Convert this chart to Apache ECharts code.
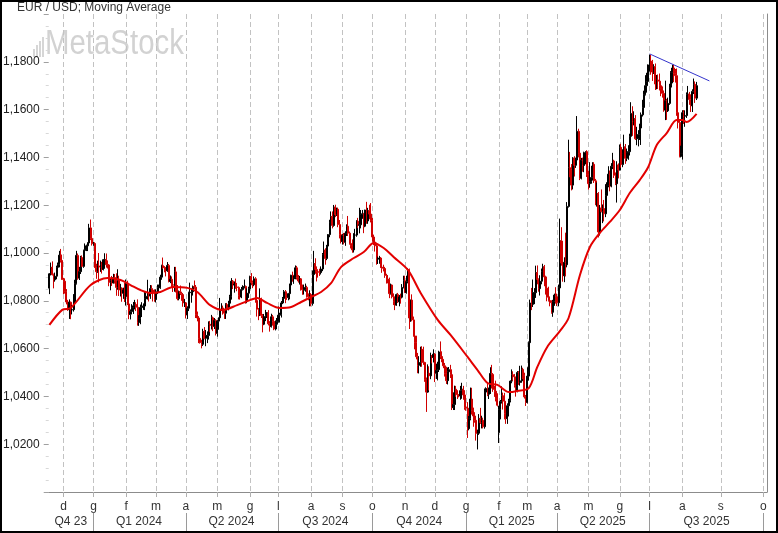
<!DOCTYPE html>
<html><head><meta charset="utf-8">
<script src="https://cdn.jsdelivr.net/npm/echarts@6/dist/echarts.min.js"></script>
<style>html,body{margin:0;padding:0;background:#fff}#chart{width:778px;height:533px}</style>
</head><body><div id="chart"></div>
<script>
// ---- axis definitions ----
const startDate = '2023-11-17';     // first daily bar
const lastBarDate = '2025-08-15';   // last daily bar
const axisEndDate = '2025-10-03';   // axis extends into the future (calendar days)
const monthLetters = ['g','f','m','a','m','g','l','a','s','o','n','d'];
const quarterLabels = ['Q4 23','Q1 2024','Q2 2024','Q3 2024','Q4 2024','Q1 2025','Q2 2025','Q3 2025'];
const yTicks = [1.02,1.04,1.06,1.08,1.10,1.12,1.14,1.16,1.18];

// ---- EUR/USD daily bars ----
const opens = [1.0853,1.0913,1.0940,1.0909,1.0888,1.0903,1.0940,1.0953,1.0991,1.0969,
1.0889,1.0882,1.0838,1.0795,1.0763,1.0794,1.0762,1.0763,1.0795,1.0873,1.0990,1.0895,1.0922,1.0981,1.0944,1.1011,1.1013,1.1030,1.1042,1.1105,1.1061,
1.1039,1.1040,1.0940,1.0922,1.0946,1.0941,1.0950,1.0931,1.0972,1.0973,1.0951,1.0950,1.0877,1.0884,1.0875,1.0897,1.0885,1.0856,1.0885,1.0845,1.0853,1.0832,1.0845,
1.0818,1.0874,1.0787,1.0743,1.0755,1.0773,1.0779,1.0785,1.0773,1.0709,1.0727,1.0772,1.0777,1.0778,1.0808,1.0819,1.0823,1.0820,1.0851,1.0845,1.0835,
1.0805,1.0838,1.0855,1.0855,1.0899,1.0947,1.0938,1.0929,1.0926,1.0948,1.0881,1.0890,1.0867,1.0865,1.0921,1.0859,1.0809,1.0839,1.0831,1.0826,1.0791,
1.0791,1.0741,1.0769,1.0834,1.0836,1.0838,1.0860,1.0857,1.0743,1.0728,1.0643,1.0625,1.0618,1.0672,1.0643,1.0655,1.0655,1.0702,1.0697,1.0729,1.0693,1.0718,
1.0664,1.0715,1.0729,1.0761,1.0770,1.0753,1.0748,1.0784,1.0771,1.0790,1.0819,1.0882,1.0866,1.0870,1.0858,1.0856,1.0822,1.0816,1.0847,1.0857,1.0860,1.0801,1.0832,
1.0850,1.0902,1.0876,1.0867,1.0892,1.0801,1.0765,1.0741,1.0808,1.0739,1.0702,1.0734,1.0737,1.0750,1.0704,1.0692,1.0733,1.0714,1.0682,1.0702,
1.0713,1.0740,1.0742,1.0791,1.0810,1.0838,1.0824,1.0814,1.0830,1.0866,1.0907,1.0892,1.0896,1.0938,1.0897,1.0883,1.0892,1.0846,1.0844,1.0848,1.0856,1.0820,1.0818,
1.0826,1.0789,1.0910,1.0956,1.0931,1.0922,1.0919,1.0918,1.0933,1.0993,1.1012,1.0977,1.1029,1.1077,1.1129,1.1153,1.1115,1.1192,1.1160,1.1183,1.1119,1.1077,
1.1048,1.1073,1.1045,1.1083,1.1112,1.1083,1.1040,1.1033,1.1013,1.1075,1.1075,1.1133,1.1116,1.1118,1.1162,1.1164,1.1112,1.1180,1.1134,1.1177,1.1163,
1.1135,1.1067,1.1046,1.1030,1.0975,1.0975,1.0979,1.0941,1.0936,1.0935,1.0906,1.0891,1.0889,1.0830,1.0866,1.0817,1.0797,1.0782,1.0826,1.0796,1.0816,1.0815,1.0856,
1.0884,1.0834,1.0880,1.0930,1.0728,1.0803,1.0720,1.0653,1.0625,1.0566,1.0530,1.0542,1.0597,1.0595,1.0542,1.0472,1.0418,1.0497,1.0486,1.0568,1.0563,
1.0577,1.0497,1.0509,1.0512,1.0586,1.0567,1.0555,1.0528,1.0497,1.0466,1.0503,1.0512,1.0491,1.0353,1.0366,1.0430,1.0407,1.0405,1.0402,1.0424,1.0430,1.0406,
1.0354,1.0351,1.0265,1.0308,1.0389,1.0342,1.0318,1.0300,1.0245,1.0246,1.0308,1.0290,1.0300,1.0273,1.0418,1.0433,1.0409,1.0414,1.0496,1.0492,1.0429,1.0422,1.0393,
1.0249,1.0345,1.0379,1.0403,1.0380,1.0329,1.0307,1.0361,1.0384,1.0464,1.0491,1.0482,1.0445,1.0422,1.0500,1.0458,1.0465,1.0513,1.0486,1.0398,
1.0375,1.0485,1.0625,1.0791,1.0785,1.0834,1.0834,1.0918,1.0889,1.0851,1.0882,1.0922,1.0942,1.0900,1.0853,1.0815,1.0801,1.0792,1.0752,1.0798,1.0824,
1.0817,1.0792,1.0854,1.1051,1.0958,1.0905,1.0961,1.0951,1.1195,1.1357,1.1349,1.1284,1.1397,1.1367,1.1389,1.1509,1.1418,1.1313,1.1388,1.1366,1.1420,1.1424,
1.1327,1.1290,1.1300,1.1316,1.1371,1.1302,1.1230,1.1249,1.1088,1.1188,1.1173,1.1186,1.1164,1.1241,1.1284,1.1330,1.1280,1.1363,1.1385,1.1325,1.1290,1.1368,
1.1347,1.1442,1.1370,1.1418,1.1444,1.1396,1.1422,1.1424,1.1488,1.1584,1.1550,1.1562,1.1478,1.1480,1.1496,1.1523,1.1578,1.1609,1.1664,1.1700,1.1718,
1.1787,1.1803,1.1800,1.1757,1.1779,1.1707,1.1724,1.1719,1.1700,1.1690,1.1668,1.1598,1.1637,1.1595,1.1626,1.1694,1.1754,1.1774,1.1752,1.1742,1.1587,1.1546,1.1404,
1.1415,1.1587,1.1572,1.1575,1.1662,1.1665,1.1642,1.1616,1.1676,1.1706,1.1648];

const highs = [1.0916,1.0960,1.0965,1.0914,1.0918,1.0947,1.0960,1.1009,1.1017,1.0993,
1.0896,1.0894,1.0849,1.0804,1.0806,1.0797,1.0781,1.0828,1.0888,1.1009,1.0998,1.0942,1.0988,1.0990,1.1014,1.1040,1.1035,1.1045,1.1122,1.1140,1.1079,
1.1046,1.1045,1.0955,1.0968,1.1000,1.0968,1.0963,1.0975,1.0999,1.0998,1.0969,1.0953,1.0893,1.0904,1.0913,1.0912,1.0915,1.0932,1.0905,1.0871,1.0856,1.0855,1.0875,
1.0889,1.0884,1.0792,1.0764,1.0786,1.0795,1.0804,1.0794,1.0806,1.0740,1.0784,1.0794,1.0789,1.0839,1.0838,1.0888,1.0836,1.0866,1.0865,1.0850,1.0848,
1.0848,1.0868,1.0868,1.0909,1.0951,1.0981,1.0945,1.0941,1.0962,1.0954,1.0906,1.0902,1.0875,1.0942,1.0942,1.0866,1.0843,1.0864,1.0838,1.0832,1.0808,
1.0795,1.0777,1.0838,1.0876,1.0851,1.0864,1.0885,1.0866,1.0755,1.0736,1.0670,1.0637,1.0683,1.0690,1.0678,1.0672,1.0714,1.0716,1.0741,1.0734,1.0728,1.0723,
1.0719,1.0730,1.0812,1.0790,1.0780,1.0761,1.0790,1.0791,1.0800,1.0825,1.0895,1.0887,1.0881,1.0893,1.0875,1.0860,1.0853,1.0858,1.0865,1.0889,1.0864,1.0852,1.0859,
1.0905,1.0916,1.0885,1.0902,1.0899,1.0805,1.0770,1.0852,1.0813,1.0745,1.0745,1.0762,1.0753,1.0761,1.0715,1.0746,1.0741,1.0718,1.0718,1.0728,
1.0776,1.0750,1.0799,1.0816,1.0845,1.0845,1.0831,1.0833,1.0872,1.0909,1.0922,1.0905,1.0948,1.0946,1.0908,1.0904,1.0895,1.0868,1.0868,1.0872,1.0863,1.0831,1.0844,
1.0832,1.0927,1.1009,1.0978,1.0944,1.0929,1.0934,1.0944,1.1000,1.1048,1.1020,1.1034,1.1079,1.1139,1.1174,1.1174,1.1201,1.1202,1.1190,1.1190,1.1138,1.1090,
1.1079,1.1084,1.1091,1.1120,1.1155,1.1090,1.1055,1.1057,1.1083,1.1101,1.1137,1.1147,1.1189,1.1180,1.1180,1.1168,1.1181,1.1214,1.1189,1.1202,1.1209,
1.1147,1.1077,1.1051,1.1043,1.0985,1.0988,1.0983,1.0960,1.0951,1.0942,1.0913,1.0907,1.0897,1.0872,1.0868,1.0831,1.0807,1.0830,1.0833,1.0824,1.0830,1.0870,1.0905,
1.0905,1.0905,1.0937,1.0935,1.0805,1.0827,1.0734,1.0661,1.0654,1.0582,1.0568,1.0608,1.0610,1.0608,1.0545,1.0479,1.0534,1.0526,1.0583,1.0573,1.0597,
1.0581,1.0537,1.0545,1.0591,1.0630,1.0588,1.0556,1.0540,1.0524,1.0521,1.0523,1.0532,1.0508,1.0417,1.0445,1.0444,1.0426,1.0409,1.0444,1.0457,1.0444,1.0426,
1.0364,1.0376,1.0318,1.0437,1.0436,1.0353,1.0334,1.0313,1.0261,1.0326,1.0352,1.0319,1.0311,1.0433,1.0438,1.0455,1.0437,1.0522,1.0532,1.0497,1.0444,1.0466,1.0413,
1.0361,1.0385,1.0442,1.0416,1.0415,1.0339,1.0371,1.0390,1.0467,1.0513,1.0505,1.0494,1.0459,1.0506,1.0506,1.0528,1.0529,1.0520,1.0499,1.0406,
1.0522,1.0630,1.0805,1.0854,1.0889,1.0853,1.0947,1.0948,1.0894,1.0907,1.0935,1.0955,1.0950,1.0905,1.0862,1.0859,1.0818,1.0802,1.0804,1.0830,1.0857,
1.0830,1.0868,1.1144,1.1108,1.1051,1.0982,1.1085,1.1213,1.1474,1.1423,1.1372,1.1401,1.1405,1.1399,1.1573,1.1520,1.1460,1.1398,1.1399,1.1424,1.1426,1.1430,
1.1344,1.1380,1.1365,1.1380,1.1380,1.1310,1.1295,1.1255,1.1201,1.1266,1.1203,1.1222,1.1288,1.1296,1.1363,1.1345,1.1376,1.1419,1.1390,1.1337,1.1384,1.1375,
1.1454,1.1457,1.1434,1.1495,1.1456,1.1437,1.1451,1.1499,1.1631,1.1614,1.1593,1.1577,1.1528,1.1514,1.1541,1.1588,1.1641,1.1679,1.1744,1.1754,1.1789,
1.1830,1.1829,1.1808,1.1790,1.1793,1.1745,1.1747,1.1751,1.1707,1.1697,1.1680,1.1721,1.1645,1.1650,1.1708,1.1761,1.1788,1.1788,1.1770,1.1772,1.1598,1.1555,1.1449,
1.1597,1.1598,1.1597,1.1672,1.1699,1.1674,1.1664,1.1685,1.1730,1.1718,1.1716];

const lows = [1.0828,1.0906,1.0906,1.0852,1.0880,1.0890,1.0922,1.0940,1.0960,1.0888,
1.0828,1.0830,1.0785,1.0758,1.0724,1.0723,1.0743,1.0755,1.0773,1.0868,1.0888,1.0887,1.0912,1.0941,1.0938,1.0996,1.1008,1.1008,1.1036,1.1054,1.1031,
1.1030,1.0937,1.0892,1.0917,1.0877,1.0921,1.0914,1.0927,1.0934,1.0939,1.0935,1.0861,1.0844,1.0862,1.0872,1.0872,1.0821,1.0846,1.0820,1.0818,1.0796,1.0808,1.0795,
1.0780,1.0782,1.0723,1.0722,1.0743,1.0745,1.0764,1.0757,1.0696,1.0695,1.0702,1.0732,1.0762,1.0761,1.0789,1.0805,1.0797,1.0808,1.0828,1.0797,1.0796,
1.0793,1.0828,1.0834,1.0850,1.0888,1.0934,1.0919,1.0902,1.0921,1.0877,1.0874,1.0858,1.0837,1.0838,1.0835,1.0802,1.0802,1.0824,1.0800,1.0775,1.0774,
1.0726,1.0724,1.0757,1.0823,1.0792,1.0822,1.0850,1.0728,1.0714,1.0623,1.0621,1.0601,1.0611,1.0639,1.0610,1.0623,1.0638,1.0669,1.0680,1.0673,1.0682,1.0655,
1.0650,1.0679,1.0724,1.0757,1.0742,1.0724,1.0724,1.0762,1.0760,1.0766,1.0805,1.0849,1.0834,1.0850,1.0840,1.0806,1.0805,1.0811,1.0843,1.0852,1.0788,1.0790,1.0812,
1.0844,1.0865,1.0853,1.0861,1.0792,1.0734,1.0719,1.0736,1.0728,1.0668,1.0698,1.0715,1.0728,1.0697,1.0671,1.0688,1.0696,1.0677,1.0676,1.0686,
1.0709,1.0709,1.0730,1.0786,1.0794,1.0790,1.0804,1.0802,1.0806,1.0858,1.0880,1.0871,1.0890,1.0889,1.0876,1.0868,1.0843,1.0825,1.0826,1.0838,1.0813,1.0802,1.0777,
1.0777,1.0780,1.0882,1.0913,1.0881,1.0897,1.0904,1.0910,1.0924,1.0985,1.0951,1.0970,1.1018,1.1066,1.1101,1.1103,1.1110,1.1150,1.1155,1.1108,1.1061,1.1040,
1.1035,1.1036,1.1030,1.1071,1.1071,1.1035,1.1019,1.1001,1.1002,1.1058,1.1068,1.1104,1.1082,1.1103,1.1143,1.1083,1.1108,1.1122,1.1122,1.1141,1.1128,
1.1047,1.1033,1.1006,1.0951,1.0954,1.0955,1.0937,1.0917,1.0923,1.0896,1.0872,1.0873,1.0811,1.0826,1.0810,1.0782,1.0761,1.0779,1.0791,1.0777,1.0788,1.0810,1.0852,
1.0833,1.0830,1.0873,1.0682,1.0712,1.0714,1.0650,1.0597,1.0555,1.0497,1.0496,1.0524,1.0524,1.0532,1.0461,1.0335,1.0415,1.0425,1.0472,1.0538,1.0542,
1.0460,1.0473,1.0467,1.0502,1.0556,1.0543,1.0518,1.0483,1.0452,1.0450,1.0476,1.0477,1.0343,1.0343,1.0343,1.0398,1.0389,1.0396,1.0386,1.0390,1.0386,1.0344,
1.0340,1.0226,1.0258,1.0300,1.0324,1.0273,1.0290,1.0215,1.0178,1.0239,1.0285,1.0266,1.0266,1.0265,1.0352,1.0401,1.0389,1.0410,1.0433,1.0419,1.0398,1.0379,1.0358,
1.0205,1.0304,1.0370,1.0345,1.0304,1.0285,1.0285,1.0316,1.0375,1.0455,1.0465,1.0437,1.0399,1.0417,1.0448,1.0445,1.0457,1.0472,1.0391,1.0360,
1.0370,1.0466,1.0620,1.0761,1.0774,1.0786,1.0812,1.0869,1.0838,1.0822,1.0869,1.0901,1.0861,1.0826,1.0798,1.0797,1.0777,1.0746,1.0733,1.0779,1.0788,
1.0778,1.0777,1.0845,1.0947,1.0880,1.0878,1.0902,1.0940,1.1190,1.1317,1.1262,1.1266,1.1320,1.1356,1.1385,1.1400,1.1305,1.1308,1.1340,1.1338,1.1371,1.1318,
1.1265,1.1273,1.1290,1.1303,1.1293,1.1200,1.1194,1.1065,1.1073,1.1170,1.1125,1.1132,1.1150,1.1212,1.1275,1.1258,1.1275,1.1351,1.1314,1.1284,1.1211,1.1312,
1.1345,1.1357,1.1359,1.1400,1.1373,1.1384,1.1390,1.1408,1.1468,1.1490,1.1534,1.1473,1.1451,1.1446,1.1473,1.1452,1.1571,1.1593,1.1659,1.1671,1.1709,
1.1759,1.1746,1.1720,1.1749,1.1682,1.1685,1.1686,1.1680,1.1656,1.1650,1.1591,1.1556,1.1557,1.1590,1.1620,1.1679,1.1710,1.1715,1.1713,1.1574,1.1521,1.1400,1.1400,
1.1391,1.1540,1.1528,1.1565,1.1630,1.1620,1.1590,1.1590,1.1665,1.1628,1.1640];

const closes = [1.0913,1.0940,1.0909,1.0888,1.0903,1.0940,1.0953,1.0991,1.0969,1.0889,
1.0882,1.0838,1.0795,1.0763,1.0794,1.0762,1.0763,1.0795,1.0873,1.0990,1.0895,1.0922,1.0981,1.0944,1.1011,1.1013,1.1030,1.1042,1.1105,1.1061,1.1039,
1.1040,1.0940,1.0922,1.0946,1.0941,1.0950,1.0931,1.0972,1.0973,1.0951,1.0950,1.0877,1.0884,1.0875,1.0897,1.0885,1.0856,1.0885,1.0845,1.0853,1.0832,1.0845,1.0818,
1.0874,1.0787,1.0743,1.0755,1.0773,1.0779,1.0785,1.0773,1.0709,1.0727,1.0772,1.0777,1.0778,1.0808,1.0819,1.0823,1.0820,1.0851,1.0845,1.0835,1.0805,
1.0838,1.0855,1.0855,1.0899,1.0947,1.0938,1.0929,1.0926,1.0948,1.0881,1.0890,1.0867,1.0865,1.0921,1.0859,1.0809,1.0839,1.0831,1.0826,1.0791,1.0791,
1.0741,1.0769,1.0834,1.0836,1.0838,1.0860,1.0857,1.0743,1.0728,1.0643,1.0625,1.0618,1.0672,1.0643,1.0655,1.0655,1.0702,1.0697,1.0729,1.0693,1.0718,1.0664,
1.0715,1.0729,1.0761,1.0770,1.0753,1.0748,1.0784,1.0771,1.0790,1.0819,1.0882,1.0866,1.0870,1.0858,1.0856,1.0822,1.0816,1.0847,1.0857,1.0860,1.0801,1.0832,1.0850,
1.0902,1.0876,1.0867,1.0892,1.0801,1.0765,1.0741,1.0808,1.0739,1.0702,1.0734,1.0737,1.0750,1.0704,1.0692,1.0733,1.0714,1.0682,1.0702,1.0713,
1.0740,1.0742,1.0791,1.0810,1.0838,1.0824,1.0814,1.0830,1.0866,1.0907,1.0892,1.0896,1.0938,1.0897,1.0883,1.0892,1.0846,1.0844,1.0848,1.0856,1.0820,1.0818,1.0826,
1.0789,1.0910,1.0956,1.0931,1.0922,1.0919,1.0918,1.0933,1.0993,1.1012,1.0977,1.1029,1.1077,1.1129,1.1153,1.1115,1.1192,1.1160,1.1183,1.1119,1.1077,1.1048,
1.1073,1.1045,1.1083,1.1112,1.1083,1.1040,1.1033,1.1013,1.1075,1.1075,1.1133,1.1116,1.1118,1.1162,1.1164,1.1112,1.1180,1.1134,1.1177,1.1163,1.1135,
1.1067,1.1046,1.1030,1.0975,1.0975,1.0979,1.0941,1.0936,1.0935,1.0906,1.0891,1.0889,1.0830,1.0866,1.0817,1.0797,1.0782,1.0826,1.0796,1.0816,1.0815,1.0856,1.0884,
1.0834,1.0880,1.0930,1.0728,1.0803,1.0720,1.0653,1.0625,1.0566,1.0530,1.0542,1.0597,1.0595,1.0542,1.0472,1.0418,1.0497,1.0486,1.0568,1.0563,1.0577,
1.0497,1.0509,1.0512,1.0586,1.0567,1.0555,1.0528,1.0497,1.0466,1.0503,1.0512,1.0491,1.0353,1.0366,1.0430,1.0407,1.0405,1.0402,1.0424,1.0430,1.0406,1.0354,
1.0351,1.0265,1.0308,1.0389,1.0342,1.0318,1.0300,1.0245,1.0246,1.0308,1.0290,1.0300,1.0273,1.0418,1.0433,1.0409,1.0414,1.0496,1.0492,1.0429,1.0422,1.0393,1.0363,
1.0345,1.0379,1.0403,1.0380,1.0329,1.0307,1.0361,1.0384,1.0464,1.0491,1.0482,1.0445,1.0422,1.0500,1.0458,1.0465,1.0513,1.0486,1.0398,1.0375,
1.0485,1.0625,1.0791,1.0785,1.0834,1.0834,1.0918,1.0889,1.0851,1.0882,1.0922,1.0942,1.0900,1.0853,1.0815,1.0801,1.0792,1.0752,1.0798,1.0824,1.0817,
1.0792,1.0854,1.1051,1.0958,1.0905,1.0961,1.0951,1.1195,1.1357,1.1349,1.1284,1.1397,1.1367,1.1389,1.1509,1.1418,1.1313,1.1388,1.1366,1.1420,1.1424,1.1327,
1.1290,1.1300,1.1316,1.1371,1.1302,1.1230,1.1249,1.1088,1.1188,1.1173,1.1186,1.1164,1.1241,1.1284,1.1330,1.1280,1.1363,1.1385,1.1325,1.1290,1.1368,1.1347,
1.1442,1.1370,1.1418,1.1444,1.1396,1.1422,1.1424,1.1488,1.1584,1.1550,1.1562,1.1478,1.1480,1.1496,1.1523,1.1578,1.1609,1.1664,1.1700,1.1718,1.1787,
1.1803,1.1800,1.1757,1.1779,1.1707,1.1724,1.1719,1.1700,1.1690,1.1668,1.1598,1.1637,1.1595,1.1626,1.1694,1.1754,1.1774,1.1752,1.1742,1.1587,1.1546,1.1404,1.1415,
1.1587,1.1572,1.1575,1.1662,1.1665,1.1642,1.1616,1.1676,1.1706,1.1648,1.1700];

// ---- moving average: [bar index, value] ----
const maPoints = [[0,1.0699],[9,1.0762],[15,1.0770],[29,1.0866],[41,1.0895],[50,1.0887],[57,1.0866],[64,1.0845],
[71,1.0833],[78,1.0837],[87,1.0858],[97,1.0854],[104,1.0837],[113,1.0782],[122,1.0762],[132,1.0782],[141,1.0803],
[146,1.0812],[153,1.0791],[162,1.0770],[170,1.0774],[177,1.0795],[184,1.0816],[191,1.0837],[198,1.0874],[205,1.0941],
[214,1.0979],[221,1.1004],[228,1.1042],[235,1.1021],[242,1.0983],[252,1.0929],[261,1.0833],[273,1.0720],[282,1.0657],
[294,1.0565],[301,1.0510],[308,1.0456],[315,1.0448],[323,1.0418],[329,1.0423],[337,1.0435],[343,1.0523],[350,1.0607],
[359,1.0674],[365,1.0728],[373,1.0908],[380,1.1025],[387,1.1084],[394,1.1130],[401,1.1180],[408,1.1251],[415,1.1305],
[421,1.1360],[427,1.1452],[434,1.1502],[441,1.1556],[445,1.1556],[448,1.1548],[455,1.1582]];

// ---- trend line (bar index, value) ----
const trendPoints = [[422,1.1833],[464,1.1720]];

// ---- categories: trading days, then calendar days in the future region ----
function buildCategories(){
  const out=[]; const DAY=86400000;
  let d=Date.parse(startDate+'T00:00:00Z');
  const last=Date.parse(lastBarDate+'T00:00:00Z'), end=Date.parse(axisEndDate+'T00:00:00Z');
  while(d<=end){
    const wd=new Date(d).getUTCDay();
    if(d>last || (wd!==0 && wd!==6)) out.push(new Date(d).toISOString().slice(0,10));
    d+=DAY;
  }
  return out;
}
const categories = buildCategories();
const monthOf = s => +s.slice(5,7)-1;
const monthStart = new Set(), quarterStart = [];
categories.forEach((c,i)=>{ if(i>0 && monthOf(c)!==monthOf(categories[i-1])){ monthStart.add(i); if(monthOf(c)%3===0) quarterStart.push(i);} });
const qBounds=[0].concat(quarterStart);
const quarterMid = {};
for(let k=0;k<quarterLabels.length && k+1<qBounds.length;k++){ quarterMid[Math.floor((qBounds[k]+qBounds[k+1])/2)] = quarterLabels[k]; }
const quarterStartSet = new Set(quarterStart);

const candles = closes.map((c,i)=>[opens[i], c, lows[i], highs[i]]);

const FONT = '"Liberation Sans", Arial, Helvetica, sans-serif';
const chart = echarts.init(document.getElementById('chart'), null, {renderer:'canvas'});
chart.setOption({
  animation:false,
  backgroundColor:'#fff',
  textStyle:{fontFamily:FONT},
  title:{text:'EUR / USD; Moving Average', left:17, top:2, padding:0,
         textStyle:{fontSize:12, fontWeight:'normal', color:'#333', fontFamily:FONT}},
  grid:{left:48, right:11, top:14, bottom:41, containLabel:false},
  xAxis:[{
    type:'category', data:categories, boundaryGap:true,
    axisLine:{show:true, lineStyle:{color:'#8c8c8c', width:1}},
    axisTick:{show:true, interval:(i)=>monthStart.has(i), alignWithLabel:true, length:5, lineStyle:{color:'#b0b0b0'}},
    axisLabel:{interval:(i)=>monthStart.has(i), formatter:(v)=>monthLetters[monthOf(v)], margin:9,
               color:'#333', fontSize:12, fontFamily:FONT},
    splitLine:{show:true, interval:(i)=>monthStart.has(i), alignWithLabel:true, lineStyle:{color:'#c2c2c2', type:[5,3], width:1}}
  },{
    type:'category', data:categories, boundaryGap:true, position:'bottom', offset:21,
    axisLine:{show:false},
    axisTick:{show:true, interval:(i)=>quarterStartSet.has(i), alignWithLabel:true, length:20, lineStyle:{color:'#9a9a9a'}},
    axisLabel:{interval:(i)=>quarterMid[i]!==undefined, formatter:(v,i)=>quarterMid[i]||'', margin:3,
               color:'#333', fontSize:12, fontFamily:FONT},
    splitLine:{show:false}
  }],
  yAxis:[{
    type:'value', min:1.0, max:1.2, interval:0.02, position:'left', scale:false,
    axisLine:{show:false},
    axisTick:{show:true, length:5, lineStyle:{color:'#a0a0a0'}},
    minorTick:{show:true, splitNumber:4, length:3, lineStyle:{color:'#d8d8d8'}},
    splitLine:{show:false},
    axisLabel:{margin:9, color:'#222', fontSize:12, fontFamily:FONT,
      formatter:(v)=> yTicks.some(t=>Math.abs(t-v)<1e-6) ? v.toFixed(4).replace('.', ',') : ''}
  },{
    type:'value', min:1.0, max:1.2, position:'right',
    axisLine:{show:true, lineStyle:{color:'#8c8c8c'}},
    axisTick:{show:false}, axisLabel:{show:false}, splitLine:{show:false}
  }],
  graphic:[
    {type:'group', z:0, silent:true, children:[
      {type:'rect', shape:{x:33,y:49,width:2,height:8}, style:{fill:'#d6d6d6'}},
      {type:'rect', shape:{x:36,y:45,width:2,height:12}, style:{fill:'#d6d6d6'}},
      {type:'rect', shape:{x:39,y:41,width:2,height:16}, style:{fill:'#d6d6d6'}},
      {type:'rect', shape:{x:42,y:37,width:2,height:20}, style:{fill:'#d6d6d6'}},
      {type:'text', x:45, y:27, scaleX:0.84, style:{text:'MetaStock', fill:'#d2d2d2', font:'35px '+FONT, verticalAlign:'top'}}
    ]},
    {type:'rect', z:100, silent:true, shape:{x:1,y:1,width:776,height:531}, style:{fill:'none', stroke:'#000', lineWidth:2}}
  ],
  series:[{
    type:'candlestick', xAxisIndex:0, yAxisIndex:0, data:candles, barWidth:1.5, z:2,
    itemStyle:{color:'#000', color0:'#d00000', borderColor:'#000', borderColor0:'#d00000', borderWidth:1}
  },{
    type:'line', xAxisIndex:0, yAxisIndex:0, data:maPoints, smooth:0.3, symbol:'none', z:4,
    lineStyle:{color:'#e30000', width:2}
  },{
    type:'line', xAxisIndex:0, yAxisIndex:0, data:trendPoints, symbol:'none', z:5,
    lineStyle:{color:'#3434cc', width:1}
  }]
});
</script>
</body></html>
